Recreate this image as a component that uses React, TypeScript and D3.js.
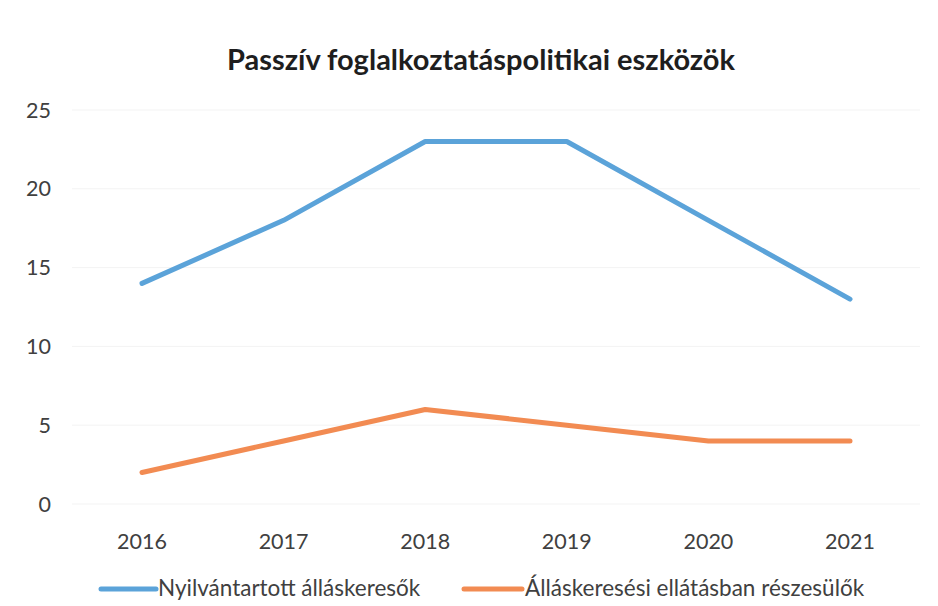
import React from "react";
import * as d3 from "d3";

const years = ["2016", "2017", "2018", "2019", "2020", "2021"];
const nyilvantartott = [14, 18, 23, 23, 18, 13];
const ellatas = [2, 4, 6, 5, 4, 4];
const yTicks = [0, 5, 10, 15, 20, 25];
const seriesNames = ["Nyilvántartott álláskeresők", "Álláskeresési ellátásban részesülők"];
const title = "Passzív foglalkoztatáspolitikai eszközök";

const W = 938, H = 606;
const FONT = "Lato, 'Open Sans', sans-serif";
const COLORS = ["#5ba3d9", "#f28b52"];

export default function App() {
  const x = d3.scalePoint<string>().domain(years).range([142, 850]);
  const y = d3.scaleLinear().domain([0, 25]).range([504, 110]);
  const line = d3.line<number>().x((_, i) => x(years[i])!).y(d => y(d));
  const series = [nyilvantartott, ellatas];
  return (
    <svg width={W} height={H} style={{ position: "absolute", left: 0, top: 0, background: "#fff" }}>
      <rect x={0} y={0} width={W} height={H} fill="#fff" />
      <text x={481} y={70} textAnchor="middle" fontFamily={FONT} fontWeight="bold" fontSize={29} fill="#1e1e1e">{title}</text>
      {yTicks.map(t => (
        <g key={t}>
          <line x1={72} x2={920} y1={y(t)} y2={y(t)} stroke="#f3f3f3" strokeWidth={1} />
          <text x={51} y={y(t)} dy="0.35em" textAnchor="end" fontFamily={FONT} fontSize={21.5} fill="#404040">{t}</text>
        </g>
      ))}
      {years.map(yr => (
        <text key={yr} x={x(yr)} y={541} dy="0.35em" textAnchor="middle" fontFamily={FONT} fontSize={21.5} fill="#404040">{yr}</text>
      ))}
      {series.map((s, i) => (
        <path key={i} d={line(s)!} fill="none" stroke={COLORS[i]} strokeWidth={5} strokeLinecap="round" strokeLinejoin="round" />
      ))}
      {[{ x1: 101, x2: 156, tx: 158 }, { x1: 464, x2: 522, tx: 525 }].map((l, i) => (
        <g key={i}>
          <line x1={l.x1} x2={l.x2} y1={589} y2={589} stroke={COLORS[i]} strokeWidth={5} strokeLinecap="round" />
          <text x={l.tx} y={588} dy="0.35em" fontFamily={FONT} fontSize={22.5} fill="#404040">{seriesNames[i]}</text>
        </g>
      ))}
    </svg>
  );
}
